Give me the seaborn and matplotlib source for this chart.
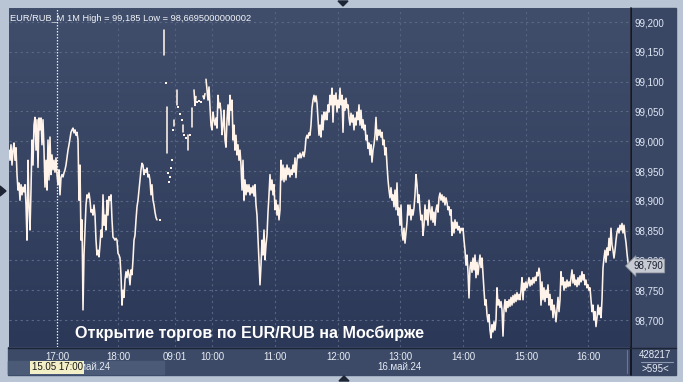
import numpy as np
import pandas as pd
import matplotlib
matplotlib.use("Agg")
import matplotlib.pyplot as plt
from matplotlib.colors import LinearSegmentedColormap
from matplotlib.patches import Rectangle, Polygon
import seaborn as sns

# ---------------- data (1-minute closes, bar index = minutes on the ordinal axis) -------------
evening_start = 0
evening_price = [
    98.985, 98.968, 98.994, 98.960, 98.985, 98.997, 98.968, 98.989, 98.944, 98.918,
    98.930, 98.901, 98.927, 98.910, 98.923, 98.915, 98.927, 98.893, 98.834, 98.968,
    98.890, 98.851, 98.918, 99.002, 98.960, 99.027, 99.040, 98.985, 99.036, 98.956,
    99.039, 99.019, 99.039, 98.994, 99.036, 98.985, 98.923, 98.968, 98.918, 99.002,
    98.935, 99.007, 98.944, 98.977, 98.952, 98.968, 98.948, 98.972, 98.944, 98.927,
    98.952, 98.910, 98.939, 98.944, 98.940, 98.947, 98.952, 98.960, 98.972, 98.985,
    98.994, 99.005, 99.015, 99.019, 99.022, 99.014, 99.019, 99.010, 99.015, 99.002,
    98.901, 98.960, 98.834, 98.868, 98.717, 98.809, 98.851, 98.893, 98.910, 98.905,
    98.913, 98.901, 98.881, 98.885, 98.876, 98.893, 98.876, 98.834, 98.809, 98.817,
    98.806, 98.826, 98.851, 98.839, 98.910, 98.859, 98.876, 98.851, 98.901, 98.876,
    98.907, 98.901, 98.910, 98.868, 98.839, 98.837, 98.834, 98.837, 98.834, 98.812,
    98.809, 98.804, 98.775, 98.725, 98.750, 98.738, 98.767, 98.781, 98.771, 98.784,
    98.776, 98.759, 98.784, 98.776, 98.801, 98.834, 98.842, 98.868, 98.890, 98.901,
    98.918, 98.935, 98.952, 98.963, 98.960, 98.944, 98.952, 98.948, 98.955, 98.940,
    98.944, 98.935, 98.910, 98.927, 98.901, 98.893, 98.881, 98.872, 98.868,
]

# sparse opening minutes: short segments ...
morning_seg = [1, 1, 2, 2, 3, 3, 4, 4, 5, 5, 6, 6, 7, 7, 8, 8, 8, 9, 9, 9]
morning_bar = [155, 155, 158, 158, 165, 165, 168, 168, 174, 174, 179, 179, 183, 183,
               185, 186, 187, 194, 195, 196]
morning_price = [99.187, 99.145, 99.057, 98.980, 99.036, 99.025, 99.086, 99.060,
                 99.027, 99.015, 99.010, 98.985, 99.055, 99.023,
                 99.086, 99.060, 99.075, 99.076, 99.071, 99.080]
# ... and single prints
dot_bar = [151, 157, 159, 160, 161, 162, 163, 164, 169, 171, 173, 175, 177, 181, 188, 190, 192]
dot_price = [98.868, 99.098, 98.947, 98.932, 98.940, 98.955, 98.968, 99.019, 99.057, 99.045,
             99.036, 99.010, 99.005, 99.010, 99.066, 99.067, 99.065]

day_start = 197
day_price = [
    99.104, 99.086, 99.069, 99.091, 99.057, 99.027, 99.019, 99.049, 99.036,
    99.027, 99.039, 99.022, 99.077, 99.056, 99.064, 99.049, 99.011, 99.027, 99.052,
    99.002, 98.990, 99.036, 99.061, 99.027, 99.077, 99.052, 99.069, 99.002, 99.027,
    98.985, 99.010, 98.977, 98.994, 98.968, 98.985, 98.960, 98.918, 98.968, 98.901,
    98.935, 98.910, 98.927, 98.915, 98.927, 98.910, 98.922, 98.913, 98.925, 98.908,
    98.927, 98.893, 98.876, 98.837, 98.801, 98.759, 98.792, 98.834, 98.809, 98.851,
    98.801, 98.826, 98.842, 98.881, 98.910, 98.944, 98.918, 98.935, 98.910, 98.927,
    98.885, 98.901, 98.876, 98.893, 98.868, 98.885, 98.968, 98.935, 98.960, 98.932,
    98.955, 98.935, 98.960, 98.944, 98.955, 98.940, 98.952, 98.944, 98.960, 98.948,
    98.972, 98.939, 98.968, 98.977, 98.972, 98.980, 98.972, 98.977, 98.982, 98.974,
    98.985, 99.005, 99.010, 99.005, 99.014, 99.010, 99.027, 99.056, 99.069, 99.077,
    99.066, 99.076, 99.064, 99.036, 99.010, 99.027, 99.007, 99.044, 99.019, 99.049,
    99.036, 99.049, 99.036, 99.061, 99.049, 99.077, 99.061, 99.089, 99.032, 99.077,
    99.061, 99.081, 99.049, 99.069, 99.056, 99.089, 99.061, 99.077, 99.015, 99.069,
    99.052, 99.072, 99.056, 99.061, 99.039, 99.027, 99.047, 99.032, 99.044, 99.019,
    99.039, 99.027, 99.049, 99.036, 99.061, 99.027, 99.052, 99.022, 99.036, 99.019,
    99.027, 99.002, 99.010, 98.988, 98.997, 98.977, 98.994, 98.965, 98.985, 98.995,
    99.010, 99.040, 99.002, 99.019, 99.010, 99.019, 99.007, 99.015, 98.994, 99.002,
    98.977, 98.989, 98.960, 98.935, 98.918, 98.905, 98.922, 98.901, 98.910, 98.890,
    98.918, 98.885, 98.930, 98.876, 98.888, 98.859, 98.893, 98.847, 98.834, 98.854,
    98.829, 98.846, 98.864, 98.893, 98.876, 98.893, 98.868, 98.885, 98.876, 98.888,
    98.910, 98.944, 98.927, 98.897, 98.910, 98.885, 98.868, 98.876, 98.842, 98.859,
    98.893, 98.868, 98.885, 98.859, 98.901,
    98.885, 98.868, 98.890, 98.864, 98.881, 98.859, 98.885, 98.893, 98.881, 98.905,
    98.913, 98.901, 98.910, 98.898, 98.907, 98.893, 98.905, 98.897, 98.885, 98.890,
    98.876, 98.885, 98.842, 98.864, 98.846, 98.868, 98.854, 98.864, 98.851, 98.857,
    98.846, 98.854, 98.851, 98.854, 98.834, 98.817, 98.792, 98.809, 98.780, 98.737,
    98.788, 98.797, 98.780, 98.804, 98.784, 98.809, 98.771, 98.797, 98.776, 98.792,
    98.809, 98.788, 98.804, 98.776, 98.750, 98.725, 98.734, 98.709, 98.697, 98.709,
    98.683, 98.670, 98.692, 98.680, 98.697, 98.683, 98.700, 98.754, 98.725, 98.734,
    98.721, 98.731, 98.717, 98.673, 98.717, 98.734, 98.714, 98.731, 98.721, 98.734,
    98.723, 98.738, 98.725, 98.741, 98.729, 98.743, 98.731, 98.746, 98.734, 98.743,
    98.734, 98.750, 98.771, 98.734, 98.762, 98.750, 98.764, 98.754,
    98.762, 98.771, 98.757, 98.767, 98.759, 98.771, 98.762, 98.772, 98.766, 98.780,
    98.774, 98.787, 98.776, 98.725, 98.764, 98.734, 98.754, 98.731, 98.750, 98.738,
    98.759, 98.725, 98.743, 98.717, 98.734, 98.704, 98.725, 98.714, 98.697, 98.717,
    98.738, 98.714, 98.734, 98.781, 98.759, 98.771, 98.750, 98.764, 98.754, 98.767,
    98.756, 98.764, 98.757, 98.771, 98.784, 98.762, 98.776, 98.759, 98.767, 98.756,
    98.771, 98.759, 98.774, 98.764, 98.781, 98.767, 98.776, 98.759, 98.767, 98.754,
    98.759, 98.750, 98.754, 98.734, 98.714, 98.725, 98.700, 98.714, 98.689, 98.704,
    98.725, 98.709, 98.721, 98.704, 98.734, 98.787, 98.804, 98.817, 98.797, 98.821,
    98.809, 98.837, 98.817, 98.854, 98.826, 98.817, 98.804, 98.817, 98.834, 98.847,
    98.854, 98.846, 98.859, 98.851, 98.862, 98.846, 98.859, 98.842, 98.830, 98.812,
    98.797, 98.790,
]

time_tick_pos = [48, 109, 166, 203, 266, 329, 391, 454, 517, 579]
time_tick_lbl = ["17:00", "18:00", "09:01", "10:00", "11:00", "12:00", "13:00", "14:00", "15:00", "16:00"]
price_ticks = [98.70, 98.75, 98.80, 98.85, 98.90, 98.95, 99.00, 99.05, 99.10, 99.15, 99.20]
last_price = 98.790
cursor_bar = 48
title_txt = "EUR/RUB_M 1M High = 99,185 Low = 98,6695000000002"
caption = "Открытие торгов по EUR/RUB на Мосбирже"

# ---------------- figure -------------------------------------------------------------
sns.set_theme(style="dark")
plt.rcParams["font.family"] = ["Liberation Sans", "DejaVu Sans"]

W, H = 683, 382
fig = plt.figure(figsize=(W / 100, H / 100), dpi=100)
fig.patch.set_facecolor("#b9c5d5")

# background/panel layer in pixel coordinates
bg = fig.add_axes([0, 0, 1, 1], zorder=-1)
bg.set_xlim(0, W)
bg.set_ylim(H, 0)
bg.axis("off")
bg.add_patch(Rectangle((631, 8), 45, 367, color="#3a4764"))       # right scale panel
bg.add_patch(Rectangle((8, 347), 623, 28, color="#3c4a67"))        # bottom time panel
bg.add_patch(Rectangle((8, 361), 156, 13, color="#4b5a77"))        # previous-day strip

# main plot axes
px_l, px_r, px_t, px_b = 9, 630, 8, 347
ax = fig.add_axes([px_l / W, 1 - px_b / H, (px_r - px_l) / W, (px_b - px_t) / H], zorder=1)
y_hi = 99.2235
y_lo = 98.6547
grad = LinearSegmentedColormap.from_list("g", ["#404e6c", "#2c3857"])
ax.imshow(np.linspace(0, 1, 256).reshape(-1, 1), extent=(0, 621, y_lo, y_hi),
          aspect="auto", cmap=grad, zorder=0)

for v in price_ticks:
    ax.axhline(v, color="#5b6986", lw=0.8, dashes=(2, 3), zorder=1)
for t in time_tick_pos:
    if t != cursor_bar:
        ax.axvline(t, color="#55637f", lw=0.8, dashes=(2, 3), zorder=1)
ax.axvline(cursor_bar, color="#e8ecf4", lw=0.9, dashes=(1.2, 1.2), zorder=2)

line_col = "#fff3ea"
lw = 1.15
ev = pd.DataFrame({"bar": np.arange(evening_start, evening_start + len(evening_price)),
                   "price": evening_price})
dy = pd.DataFrame({"bar": np.arange(day_start, day_start + len(day_price)),
                   "price": day_price})
mo = pd.DataFrame({"bar": morning_bar, "price": morning_price, "seg": morning_seg})
dots = pd.DataFrame({"bar": dot_bar, "price": dot_price})

sns.lineplot(data=ev, x="bar", y="price", ax=ax, color=line_col, lw=lw,
             estimator=None, sort=False, zorder=3)
sns.lineplot(data=dy, x="bar", y="price", ax=ax, color=line_col, lw=lw,
             estimator=None, sort=False, zorder=3)
sns.lineplot(data=mo, x="bar", y="price", units="seg", ax=ax, color=line_col, lw=lw,
             estimator=None, sort=False, zorder=3)
sns.scatterplot(data=dots, x="bar", y="price", ax=ax, color=line_col, marker="s",
                s=3, linewidth=0, zorder=3)

ax.set_xlim(0, 621)
ax.set_ylim(y_lo, y_hi)
ax.set_xlabel("")
ax.set_ylabel("")
for s in ax.spines.values():
    s.set_visible(False)
ax.grid(False)

ax.yaxis.tick_right()
ax.set_yticks(price_ticks)
ax.set_yticklabels([f"{v:.3f}".replace(".", ",") for v in price_ticks])
ax.tick_params(axis="y", length=0, pad=3, labelsize=7, labelcolor="#dfe7f5")
ax.set_xticks(time_tick_pos)
ax.set_xticklabels(time_tick_lbl)
ax.tick_params(axis="x", length=0, pad=3.5, labelsize=7, labelcolor="#e8edf5")

ax.text(0.002, 0.982, title_txt, transform=ax.transAxes, ha="left", va="top",
        fontsize=6.65, color="#f2f4f8")
ax.text(0.107, 0.028, caption, transform=ax.transAxes, ha="left", va="baseline",
        fontsize=11.6, fontweight="bold", color="white", zorder=5)

# overlay decorations in pixel coordinates
ov = fig.add_axes([0, 0, 1, 1], zorder=3)
ov.set_xlim(0, W)
ov.set_ylim(H, 0)
ov.axis("off")
ov.patch.set_alpha(0)
ov.plot([631, 631], [8, 375], color="#0c0f18", lw=1.2)
ov.plot([8, 676], [347.5, 347.5], color="#1d2435", lw=1)
ov.plot([627, 627], [350, 373], color="#6c7890", lw=0.8)
ov.plot([641, 673], [362, 362], color="#8c98b0", lw=0.8)
ov.text(655, 355, "428217", ha="center", va="center", fontsize=7, color="#e6ecf5")
ov.text(655, 369, ">595<", ha="center", va="center", fontsize=7, color="#e6ecf5")
ov.text(399, 367.5, "16.май.24", ha="center", va="center", fontsize=7, color="#e6ecf5")
ov.text(88, 367.5, "15.май.24", ha="center", va="center", fontsize=7, color="#e6ecf5")
ov.text(57, 367.5, "15.05 17:00", ha="center", va="center", fontsize=7, color="#1a1a1a",
        bbox=dict(boxstyle="square,pad=0.15", fc="#f3efc6", ec="none"))
ov.text(633, 266, "98,790", ha="left", va="center", fontsize=7, color="#1b2130",
        bbox=dict(boxstyle="larrow,pad=0.2", fc="#c6cad2", ec="#8a909c", lw=0.5))
ov.add_patch(Polygon([[338, 1], [348, 1], [343, 6]], closed=True, color="#1e2636"))
ov.add_patch(Polygon([[339, 381], [349, 381], [344, 376]], closed=True, color="#1e2636"))
ov.add_patch(Polygon([[0, 186], [0, 196], [6, 191]], closed=True, color="#1e2636"))

fig.savefig("out.png", dpi=100, facecolor=fig.get_facecolor())
